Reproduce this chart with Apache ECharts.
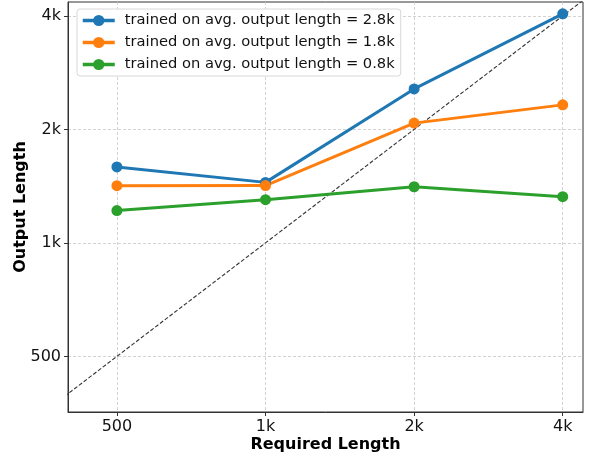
<!DOCTYPE html>
<html>
<head>
<meta charset="utf-8">
<script src="https://cdn.jsdelivr.net/npm/echarts@6/dist/echarts.min.js"></script>
<style>
html,body{margin:0;padding:0;background:#fff;}
#chart{width:589px;height:457px;}
</style>
</head>
<body>
<div id="chart"></div>
<script>
// values in thousands of tokens
const requiredLength = [0.5, 1, 2, 4];
const out28k = [1.59, 1.447, 2.56, 4.05];
const out18k = [1.418, 1.419, 2.078, 2.323];
const out08k = [1.218, 1.302, 1.409, 1.326];
const seriesNames = [
  'trained on avg. output length = 2.8k',
  'trained on avg. output length = 1.8k',
  'trained on avg. output length = 0.8k'
];
const diagonal = [0.3, 6]; // y = x reference line

const colors = ['#1f77b4', '#ff7f0e', '#2ca02c'];
const font = 'DejaVu Sans';

function fmt(v) {
  if (v < 1) return String(Math.round(v * 1000));
  return (Math.round(v * 100) / 100) + 'k';
}

function mk(name, vals, color) {
  return {
    name: name,
    type: 'line',
    data: requiredLength.map((x, i) => [x, vals[i]]),
    symbol: 'circle',
    symbolSize: 11,
    itemStyle: { color: color },
    lineStyle: { color: color, width: 3 },
    z: 3
  };
}

const chart = echarts.init(document.getElementById('chart'), null, { renderer: 'canvas' });
chart.setOption({
  animation: false,
  backgroundColor: '#fff',
  textStyle: { fontFamily: font },
  grid: {
    left: 68, top: 2, right: 6, bottom: 45,
    outerBoundsMode: 'none',
    containLabel: false,
    show: true, borderColor: '#333', borderWidth: 1, backgroundColor: 'transparent'
  },
  legend: {
    data: seriesNames,
    orient: 'vertical',
    left: 77, top: 9,
    padding: [4, 6, 4, 4],
    itemGap: 7,
    itemWidth: 32,
    itemHeight: 14,
    backgroundColor: '#fff',
    borderColor: '#d8d8d8',
    borderWidth: 1,
    borderRadius: 3,
    lineStyle: { width: 3.5 },
    textStyle: { fontFamily: font, fontSize: 14.7, color: '#111', padding: [0, 0, 0, 5] }
  },
  xAxis: {
    type: 'log', logBase: 2,
    min: 0.398, max: 4.397,
    name: 'Required Length',
    nameLocation: 'middle', nameGap: 25,
    nameMoveOverlap: false,
    nameTextStyle: { fontFamily: font, fontSize: 16, fontWeight: 'bold', color: '#000' },
    axisLine: { show: true, lineStyle: { color: '#333', width: 1 } },
    axisTick: { show: true, inside: false, length: 4, lineStyle: { color: '#333' } },
    axisLabel: { fontFamily: font, fontSize: 16, color: '#111', margin: 7, showMinLabel: false, showMaxLabel: false, formatter: fmt },
    splitLine: { show: true, showMinLine: false, showMaxLine: false, lineStyle: { color: '#c8c8c8', width: 0.8, type: [3, 2] } }
  },
  yAxis: {
    type: 'log', logBase: 2,
    min: 0.356, max: 4.354,
    name: 'Output Length',
    nameLocation: 'middle', nameGap: 39,
    nameMoveOverlap: false,
    nameTextStyle: { fontFamily: font, fontSize: 16, fontWeight: 'bold', color: '#000' },
    axisLine: { show: true, lineStyle: { color: '#333', width: 1 } },
    axisTick: { show: true, inside: false, length: 4, lineStyle: { color: '#333' } },
    axisLabel: { fontFamily: font, fontSize: 16, color: '#111', margin: 7, showMinLabel: false, showMaxLabel: false, formatter: fmt },
    splitLine: { show: true, showMinLine: false, showMaxLine: false, lineStyle: { color: '#c8c8c8', width: 0.8, type: [3, 2] } }
  },
  series: [
    mk(seriesNames[0], out28k, colors[0]),
    mk(seriesNames[1], out18k, colors[1]),
    mk(seriesNames[2], out08k, colors[2]),
    {
      name: 'y = x',
      type: 'line',
      data: diagonal.map(v => [v, v]),
      symbol: 'none',
      clip: true,
      silent: true,
      lineStyle: { color: '#333', width: 1.1, type: [4, 2] },
      z: 2
    }
  ]
});
</script>
</body>
</html>
